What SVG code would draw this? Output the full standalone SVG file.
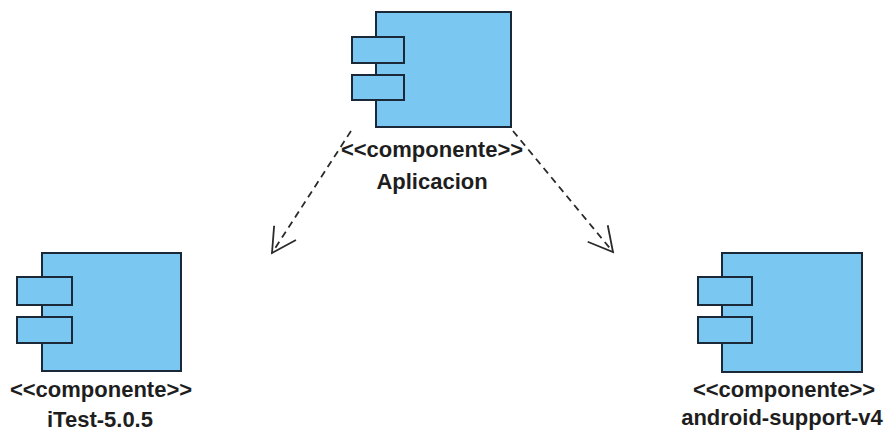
<svg xmlns="http://www.w3.org/2000/svg" width="885" height="432" viewBox="0 0 885 432">
<style>
.body{fill:#7ac8f2;stroke:#1b2838;stroke-width:2}
.port{fill:#7ac8f2;stroke:#1b2838;stroke-width:2}
.lbl{font-family:"Liberation Sans",Arial,sans-serif;font-weight:bold;font-size:22px;fill:#1e1e1e;text-anchor:middle}
.dep{fill:none;stroke:#2a2a2a;stroke-width:1.8;stroke-dasharray:7 5}
</style>
<defs>
<marker id="open" markerUnits="userSpaceOnUse" viewBox="-1 -1 26 28" refX="24" refY="13" markerWidth="26" markerHeight="28" orient="auto" overflow="visible">
<path d="M0,0 L24,13 L0,26" fill="none" stroke="#2a2a2a" stroke-width="1.8"/>
</marker>
</defs>
<rect width="885" height="432" fill="#ffffff"/>
<g id="connectors">
<line class="dep" x1="351" y1="131" x2="272" y2="253" marker-end="url(#open)"/>
<line class="dep" x1="513" y1="131" x2="613" y2="252" marker-end="url(#open)"/>
</g>
<g id="aplicacion">
<rect class="body" x="376" y="12" width="135" height="115"/>
<rect class="port" x="352" y="37" width="52" height="26"/>
<rect class="port" x="352" y="75" width="52" height="25"/>
<text class="lbl" x="432" y="157">&lt;&lt;componente&gt;&gt;</text>
<text class="lbl" x="432" y="189">Aplicacion</text>
</g>
<g id="itest">
<rect class="body" x="42" y="253" width="139" height="118"/>
<rect class="port" x="17" y="277" width="55" height="28"/>
<rect class="port" x="17" y="317" width="55" height="26"/>
<text class="lbl" x="101" y="397">&lt;&lt;componente&gt;&gt;</text>
<text class="lbl" x="100" y="427">iTest-5.0.5</text>
</g>
<g id="android-support">
<rect class="body" x="722" y="253" width="140" height="119"/>
<rect class="port" x="698" y="277" width="54" height="28"/>
<rect class="port" x="698" y="317" width="54" height="26"/>
<text class="lbl" x="784" y="397">&lt;&lt;componente&gt;&gt;</text>
<text class="lbl" x="782" y="425">android-support-v4</text>
</g>
</svg>
